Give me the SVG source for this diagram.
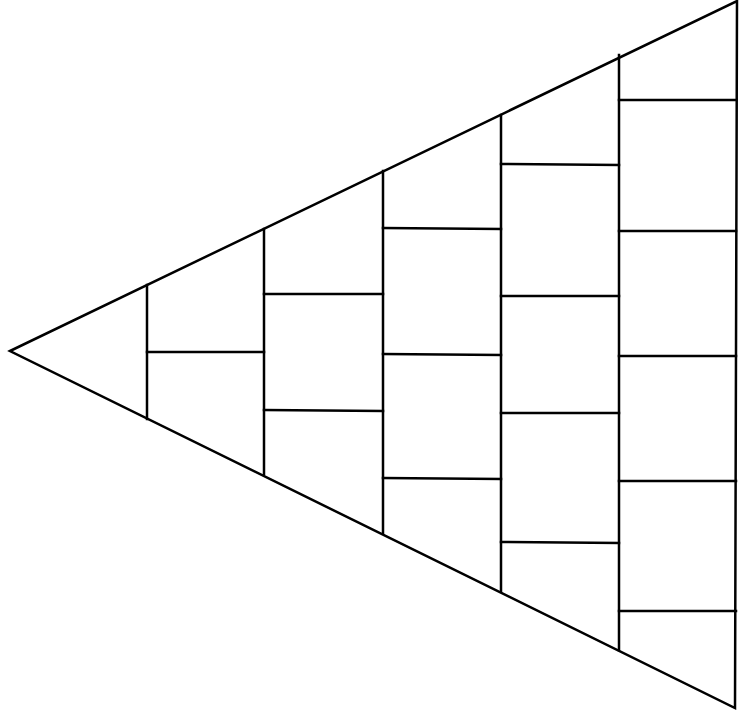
<svg xmlns="http://www.w3.org/2000/svg" width="739" height="715" viewBox="0 0 739 715">
<style>
.l{stroke:#000;stroke-width:2.5;fill:none;stroke-linecap:square}
</style>
<rect width="739" height="715" fill="#fff"/>
<g id="outline">
<polygon class="l" points="10,351 737,1 735,708"/>
</g>
<g id="columns">
<line class="l" x1="147" y1="285" x2="147" y2="419"/>
<line class="l" x1="264" y1="229" x2="264" y2="474"/>
<line class="l" x1="383" y1="171" x2="383" y2="533"/>
<line class="l" x1="501" y1="115" x2="501" y2="591"/>
<line class="l" x1="619" y1="55" x2="619" y2="650"/>
</g>
<g id="rows">
<line class="l" x1="147" y1="352" x2="264" y2="352"/>
<line class="l" x1="264" y1="294" x2="383" y2="294"/>
<line class="l" x1="264" y1="410" x2="383" y2="411"/>
<line class="l" x1="383" y1="228" x2="501" y2="229"/>
<line class="l" x1="383" y1="354" x2="501" y2="355"/>
<line class="l" x1="383" y1="478" x2="501" y2="479"/>
<line class="l" x1="501" y1="164" x2="619" y2="165"/>
<line class="l" x1="501" y1="296" x2="619" y2="296"/>
<line class="l" x1="501" y1="413" x2="619" y2="413"/>
<line class="l" x1="501" y1="542" x2="619" y2="543"/>
<line class="l" x1="619" y1="100" x2="736" y2="100"/>
<line class="l" x1="619" y1="231" x2="736" y2="231"/>
<line class="l" x1="619" y1="356" x2="736" y2="356"/>
<line class="l" x1="619" y1="481" x2="736" y2="481"/>
<line class="l" x1="619" y1="611" x2="736" y2="611"/>
</g>
</svg>
